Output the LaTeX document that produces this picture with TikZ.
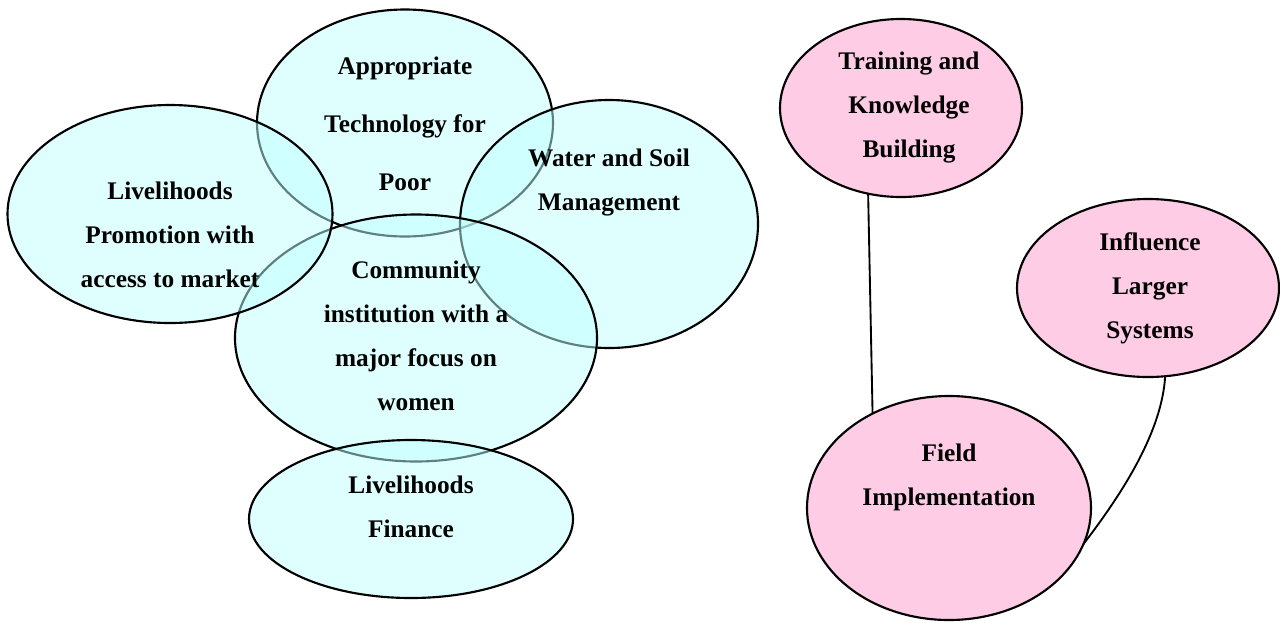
\documentclass[tikz,border=0pt]{standalone}
\usepackage{fontspec}
\setmainfont{Liberation Serif}
\usetikzlibrary{shapes.geometric}
\definecolor{venncyan}{RGB}{191,255,255}
\definecolor{focuspink}{RGB}{255,204,229}
\begin{document}
\begin{tikzpicture}[x=0.75pt,y=-0.75pt,
  blob/.style={ellipse,draw=black,line width=1.6pt,inner sep=0pt,outer sep=0pt},
  dims/.style 2 args={minimum width=#1*0.75pt,minimum height=#2*0.75pt},
  venn/.style={blob,fill=venncyan,fill opacity=0.5,draw opacity=1},
  pinkblob/.style={blob,fill=focuspink},
  txtblock/.style={align=center,inner sep=0pt,anchor=base,
    font=\bfseries\fontsize{19}{32.8}\selectfont},
  widetxt/.style={txtblock,font=\bfseries\fontsize{19}{43.5}\selectfont},
  link/.style={line width=1.4pt}]
\useasboundingbox (0,0) rectangle (1280,622);

% overlapping focus areas, drawn from the bottom layer up
\node[venn,dims={296}{227}] (ap) at (405,123) {};
\node[venn,dims={298}{248}] (ws) at (609,224) {};
\node[venn,dims={362}{247}] (ci) at (416,338) {};
\node[venn,dims={325}{218}] (lp) at (170,214) {};
\node[venn,dims={324}{158}] (lf) at (411,519) {};

% approach ellipses
\node[pinkblob,dims={242}{178}] (tk) at (901,108) {};
\node[pinkblob,dims={262}{178}] (ls) at (1148,288) {};
\node[pinkblob,dims={284}{224}] (fi) at (949,508) {};

% connectors between the approach ellipses
\draw[link] (tk.249) -- (fi.129);
\draw[link] (ls.281) .. controls (1162,430) and (1125,490) .. (fi.345);

% texts (anchored at the baseline of their last line)
\node[widetxt] (apt) at (405,190) {Appropriate\\Technology for\\Poor};
\node[txtblock] (wst) at (609,210) {Water and Soil\\Management};
\node[txtblock] (cit) at (416,410) {Community\\institution with a\\major focus on\\women};
\node[txtblock] (lpt) at (170,287) {Livelihoods\\Promotion with\\access to market};
\node[txtblock] (lft) at (411,537) {Livelihoods\\Finance};
\node[txtblock] (tkt) at (909,157) {Training and\\Knowledge\\Building};
\node[txtblock] (lst) at (1150,338) {Influence\\Larger\\Systems};
\node[txtblock] (fit) at (949,505) {Field\\Implementation};
\end{tikzpicture}
\end{document}
